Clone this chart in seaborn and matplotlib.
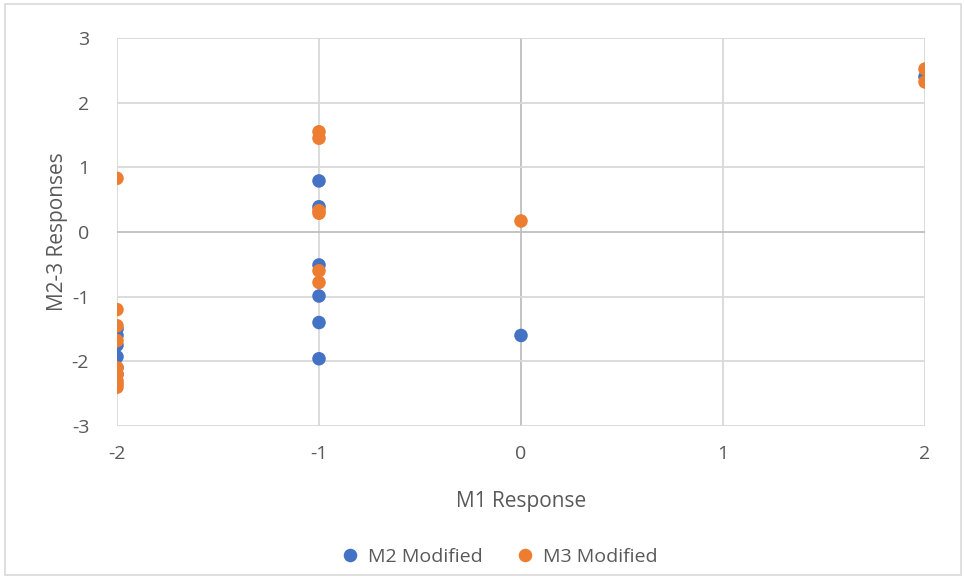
import matplotlib
matplotlib.use("Agg")
import matplotlib.pyplot as plt
import seaborn as sns
import pandas as pd
from matplotlib.patches import Rectangle

# Data
m2_x = [-2, -2, -2, -2, -2, -2, -1, -1, -1, -1, -1, -1, 0, 2]
m2_y = [-1.50, -1.60, -1.75, -1.93, -2.10, -2.20, 0.79, 0.39, -0.51, -0.99, -1.40, -1.96, -1.60, 2.40]
m3_x = [-2, -2, -2, -2, -2, -2, -2, -2, -2, -1, -1, -1, -1, -1, -1, 0, 2, 2]
m3_y = [0.83, -1.20, -1.45, -1.68, -2.10, -2.20, -2.30, -2.35, -2.40, 1.55, 1.45, 0.33, 0.29, -0.60, -0.78, 0.17, 2.52, 2.32]
series_names = ["M2 Modified", "M3 Modified"]
x_ticks = [-2, -1, 0, 1, 2]
y_ticks = [-3, -2, -1, 0, 1, 2, 3]

df = pd.concat([
    pd.DataFrame({"x": m2_x, "y": m2_y, "series": series_names[0]}),
    pd.DataFrame({"x": m3_x, "y": m3_y, "series": series_names[1]}),
])

sns.set_style("white")
plt.rcParams["font.family"] = ["Open Sans", "DejaVu Sans"]
plt.rcParams["axes.unicode_minus"] = False

fig = plt.figure(figsize=(9.64, 5.79), dpi=100)
ax = fig.add_axes([117/964, 1-426/579, (925-117)/964, (426-38)/579])

# outer border
fig.patches.append(Rectangle((5/964, 4/579), 956/964, 571/579, transform=fig.transFigure,
                             fill=False, edgecolor="#d9d9d9", linewidth=1.2))

grid_c = "#d9d9d9"
for t in x_ticks:
    ax.axvline(t, color="#bfbfbf" if t == 0 else grid_c, lw=1.3, zorder=0)
for t in y_ticks:
    ax.axhline(t, color="#bfbfbf" if t == 0 else grid_c, lw=1.3, zorder=0)

sns.scatterplot(data=df, x="x", y="y", hue="series",
                palette={"M2 Modified": "#4472C4", "M3 Modified": "#ED7D31"},
                s=95, edgecolor="none", linewidth=0, ax=ax, zorder=3, legend=True)

ax.set_xlim(-2, 2)
ax.set_ylim(-3, 3)
ax.set_xticks(x_ticks)
ax.set_yticks(y_ticks)
ax.tick_params(axis="both", labelsize=14, colors="#595959", length=0)
ax.tick_params(axis="x", pad=14)
ax.tick_params(axis="y", pad=20)
for s in ax.spines.values():
    s.set_visible(False)
ax.set_xlabel("M1 Response", fontsize=15, color="#595959", labelpad=20)
ax.set_ylabel("M2-3 Responses", fontsize=15, color="#595959", labelpad=3)

handles, labels = ax.get_legend_handles_labels()
ax.legend_.remove()
leg = fig.legend(handles, labels, loc="center", bbox_to_anchor=(494/964, 1-557/579), ncol=2,
                 frameon=False, fontsize=14, handletextpad=-0.1, columnspacing=1.2,
                 markerscale=1.0)
for t in leg.get_texts():
    t.set_color("#595959")

fig.savefig("out.png", dpi=100)
